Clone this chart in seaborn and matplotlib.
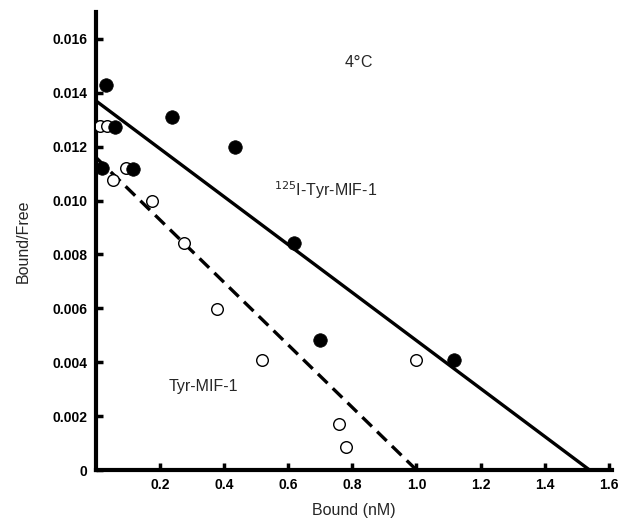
import matplotlib
matplotlib.use("Agg")
import matplotlib.pyplot as plt
import numpy as np
import pandas as pd
import seaborn as sns

# filled circles: 125I-Tyr-MIF-1
filled_x = [0.031, 0.059, 0.238, 0.434, 0.019, 0.117, 0.617, 0.700, 1.116]
filled_y = [0.01429, 0.01273, 0.0131, 0.0120, 0.0112, 0.01117, 0.00843, 0.00483, 0.00408]

# open circles: Tyr-MIF-1
open_x = [0.0125, 0.034, 0.094, 0.053, 0.175, 0.275, 0.378, 0.519, 0.759, 0.781, 0.997]
open_y = [0.01277, 0.01277, 0.0112, 0.01077, 0.0100, 0.00843, 0.00598, 0.00408, 0.00171, 0.00085, 0.00408]

# fitted lines (end points: y intercept, x intercept)
solid_x = [0.0, 1.54]
solid_y = [0.0137, 0.0]
dashed_x = [0.0, 1.0]
dashed_y = [0.0116, 0.0]

xticks = [0.2, 0.4, 0.6, 0.8, 1.0, 1.2, 1.4, 1.6]
xticklabels = ["0.2", "0.4", "0.6", "0.8", "1.0", "1.2", "1.4", "1.6"]
yticks = [0, 0.002, 0.004, 0.006, 0.008, 0.010, 0.012, 0.014, 0.016]
yticklabels = ["0", "0.002", "0.004", "0.006", "0.008", "0.010", "0.012", "0.014", "0.016"]

sns.set_style("ticks")
plt.rcParams["font.family"] = ["Liberation Sans", "DejaVu Sans"]

fig = plt.figure(figsize=(6.23, 5.2), dpi=100)
ax = fig.add_axes([96 / 623, 50 / 520, 516 / 623, 458 / 520])

sns.lineplot(x=solid_x, y=solid_y, ax=ax, color="black", linewidth=2.4)
sns.lineplot(x=dashed_x, y=dashed_y, ax=ax, color="black", linewidth=2.4,
             linestyle=(0, (4, 2.2)))

sns.scatterplot(x=open_x, y=open_y, ax=ax, marker="o", s=70,
                facecolor="white", edgecolor="black", linewidth=1.0, zorder=3)
sns.scatterplot(x=filled_x, y=filled_y, ax=ax, marker="o", s=95,
                color="black", edgecolor="black", linewidth=0.5, zorder=4)

ax.set_xlim(0, 1.61)
ax.set_ylim(0, 0.017)
ax.set_xticks(xticks)
ax.set_xticklabels(xticklabels)
ax.set_yticks(yticks)
ax.set_yticklabels(yticklabels)

sns.despine(ax=ax)
for side in ["left", "bottom"]:
    ax.spines[side].set_linewidth(3)
    ax.spines[side].set_color("black")
ax.tick_params(direction="in", length=5, width=2.5, labelsize=10,
               colors="black", pad=6)
for lab in ax.get_xticklabels() + ax.get_yticklabels():
    lab.set_fontweight("semibold")

ax.set_xlabel("Bound (nM)", fontsize=11.5, labelpad=8)
ax.set_ylabel("Bound/Free", fontsize=11.5, labelpad=16)

ax.text(0.82, 0.01515, "4$\\degree$C", fontsize=11.5, ha="center", va="center")
ax.text(0.716, 0.0104, "$^{125}$I-Tyr-MIF-1", fontsize=11.5,
        ha="center", va="center")
ax.text(0.335, 0.0031, "Tyr-MIF-1", fontsize=11.5, ha="center", va="center")

fig.savefig("out.png", dpi=100)
